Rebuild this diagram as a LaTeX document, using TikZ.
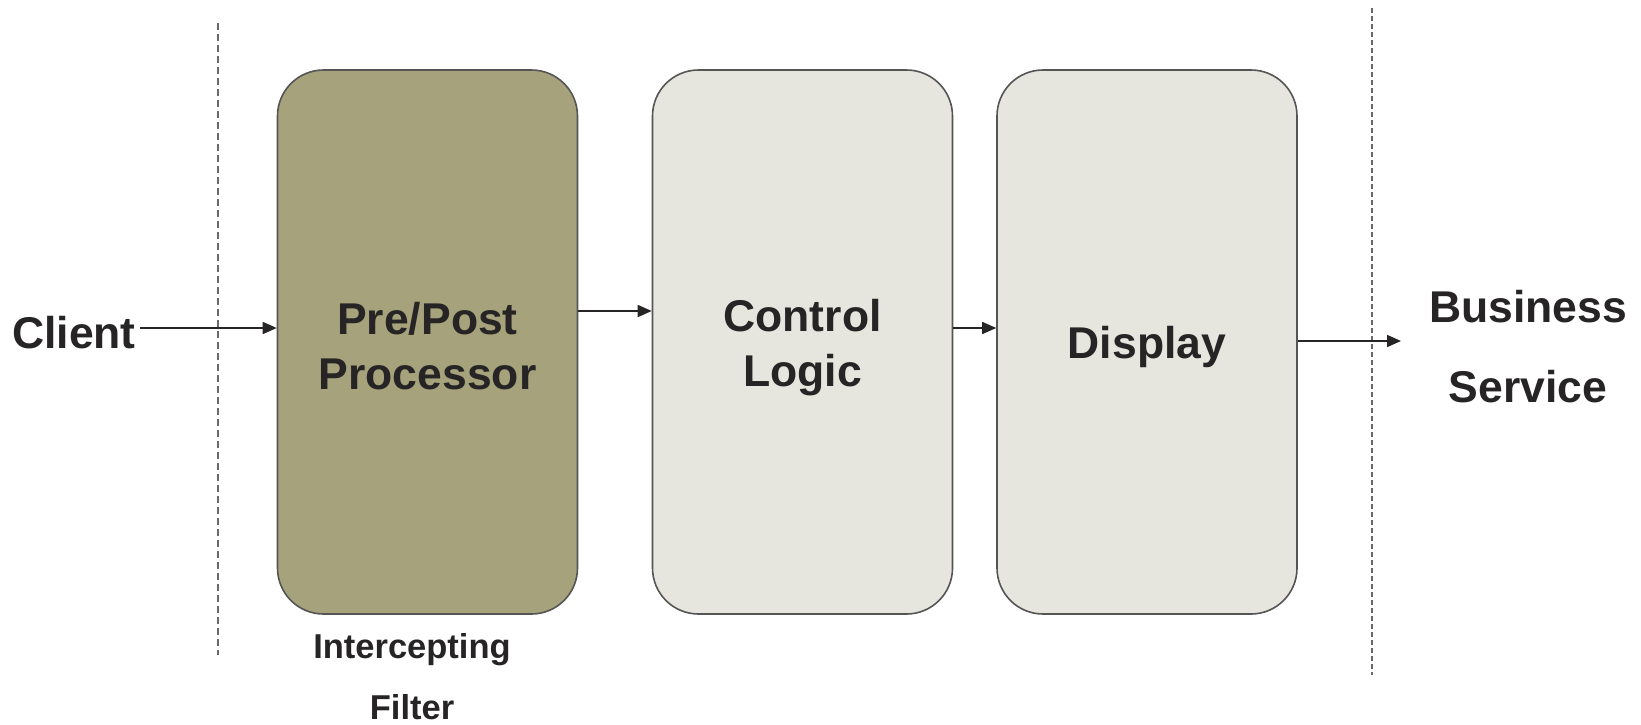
\documentclass[tikz,border=0pt]{standalone}
\usepackage{fontspec}
\setmainfont{Liberation Sans}
\usetikzlibrary{arrows.meta}
\definecolor{filterfill}{HTML}{A6A27B}
\definecolor{panelfill}{HTML}{E7E6DE}
\definecolor{edgegray}{HTML}{555555}
\definecolor{inkdark}{HTML}{262424}
\definecolor{guidegray}{HTML}{6A6A6A}
\tikzset{
  stage/.style={draw=edgegray, line width=1.6pt, rounded corners=46pt,
    minimum width=300pt, minimum height=544pt},
  stagetext/.style={text=inkdark, align=center,
    font=\fontsize{44.5}{55}\bfseries\selectfont},
  label/.style={text=inkdark, align=center, inner sep=4pt},
  flow/.style={draw=inkdark, line width=1.6pt,
    -{Triangle[length=14pt,width=12pt]}},
  boundary/.style={draw=guidegray, line width=1.4pt}
}
\begin{document}
\begin{tikzpicture}[x=1pt,y=1pt]
  \useasboundingbox (0,0) rectangle (1641,-724);

  % tier boundaries
  \draw[boundary, dash pattern=on 7pt off 4pt] (218,-23) -- (218,-655);
  \draw[boundary, dash pattern=on 5pt off 3pt] (1372,-8) -- (1372,-675);

  % processing stages
  \node[stage, fill=filterfill] (pre) at (427.5,-342) {};
  \node[stage, fill=panelfill] (ctrl) at (802.5,-342) {};
  \node[stage, fill=panelfill] (disp) at (1147,-342) {};
  \node[stagetext] (pretxt) at ([yshift=-4pt]pre.center) {Pre/Post\\Processor};
  \node[stagetext] (ctrltxt) at ([yshift=-6pt]ctrl.center) {Control\\Logic};
  \node[stagetext] (disptxt) at ([yshift=-5pt]disp.center) {Display};

  % endpoints
  \node[label, font=\fontsize{44.5}{55}\bfseries\selectfont, anchor=base]
    (client) at (74,-348) {Client};
  \node[label, font=\fontsize{44.5}{80}\bfseries\selectfont]
    (biz) at (1528,-347) {Business\\Service};
  \node[label, font=\fontsize{34.5}{61}\bfseries\selectfont]
    (ifl) at (412,-677) {Intercepting\\Filter};
  \coordinate (bizin) at (1401,-341);

  % request flow
  \draw[flow] (client.east |- 0,-328) -- ([yshift=14pt]pre.west);
  \draw[flow] ([yshift=31pt]pre.east) -- ([yshift=31pt]ctrl.west);
  \draw[flow] ([yshift=14pt]ctrl.east) -- ([yshift=14pt]disp.west);
  \draw[flow] ([yshift=1pt]disp.east) -- (bizin);
\end{tikzpicture}
\end{document}
